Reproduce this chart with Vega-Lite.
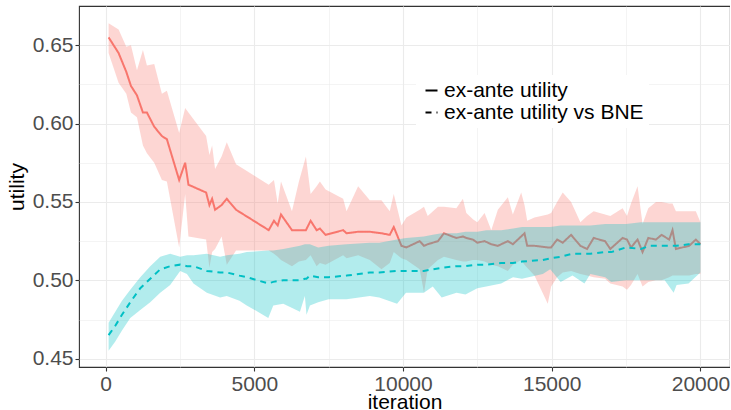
{
  "$schema": "https://vega.github.io/schema/vega-lite/v6.json",
  "width": 651,
  "height": 361,
  "autosize": {"type": "none"},
  "padding": {"left": 79, "top": 6, "right": 0, "bottom": 43},
  "background": "white",
  "config": {
    "view": {"stroke": "#333333", "strokeWidth": 1.1},
    "font": "Liberation Sans",
    "axis": {
      "labelFont": "Liberation Sans",
      "titleFont": "Liberation Sans",
      "labelFontSize": 21,
      "titleFontSize": 21,
      "labelColor": "#4D4D4D",
      "titleColor": "#000000",
      "titleFontWeight": "normal",
      "domain": false,
      "tickSize": 4,
      "tickWidth": 1.1,
      "labelPadding": 2,
      "gridColor": "#EBEBEB"
    },
    "legend": {"labelFont": "Liberation Sans"}
  },
  "datasets": {
    "eau": [
      {"iteration": 100, "utility": 0.655, "lower": 0.645, "upper": 0.664, "series": "ex-ante utility"},
      {"iteration": 436, "utility": 0.645, "lower": 0.626, "upper": 0.66, "series": "ex-ante utility"},
      {"iteration": 695, "utility": 0.633, "lower": 0.619, "upper": 0.649, "series": "ex-ante utility"},
      {"iteration": 852, "utility": 0.624, "lower": 0.607, "upper": 0.65, "series": "ex-ante utility"},
      {"iteration": 1054, "utility": 0.618, "lower": 0.604, "upper": 0.634, "series": "ex-ante utility"},
      {"iteration": 1255, "utility": 0.607, "lower": 0.586, "upper": 0.647, "series": "ex-ante utility"},
      {"iteration": 1389, "utility": 0.607, "lower": 0.581, "upper": 0.637, "series": "ex-ante utility"},
      {"iteration": 1634, "utility": 0.598, "lower": 0.575, "upper": 0.638, "series": "ex-ante utility"},
      {"iteration": 1893, "utility": 0.592, "lower": 0.564, "upper": 0.619, "series": "ex-ante utility"},
      {"iteration": 2060, "utility": 0.59, "lower": 0.563, "upper": 0.621, "series": "ex-ante utility"},
      {"iteration": 2473, "utility": 0.564, "lower": 0.521, "upper": 0.594, "series": "ex-ante utility"},
      {"iteration": 2675, "utility": 0.575, "lower": 0.555, "upper": 0.61, "series": "ex-ante utility"},
      {"iteration": 2785, "utility": 0.561, "lower": 0.528, "upper": 0.607, "series": "ex-ante utility"},
      {"iteration": 3379, "utility": 0.556, "lower": 0.526, "upper": 0.592, "series": "ex-ante utility"},
      {"iteration": 3490, "utility": 0.548, "lower": 0.508, "upper": 0.58, "series": "ex-ante utility"},
      {"iteration": 3581, "utility": 0.552, "lower": 0.518, "upper": 0.586, "series": "ex-ante utility"},
      {"iteration": 3681, "utility": 0.545, "lower": 0.52, "upper": 0.571, "series": "ex-ante utility"},
      {"iteration": 3900, "utility": 0.548, "lower": 0.528, "upper": 0.579, "series": "ex-ante utility"},
      {"iteration": 4074, "utility": 0.552, "lower": 0.51, "upper": 0.588, "series": "ex-ante utility"},
      {"iteration": 4386, "utility": 0.545, "lower": 0.519, "upper": 0.574, "series": "ex-ante utility"},
      {"iteration": 5484, "utility": 0.532, "lower": 0.519, "upper": 0.561, "series": "ex-ante utility"},
      {"iteration": 5661, "utility": 0.538, "lower": 0.517, "upper": 0.564, "series": "ex-ante utility"},
      {"iteration": 5786, "utility": 0.535, "lower": 0.515, "upper": 0.549, "series": "ex-ante utility"},
      {"iteration": 5897, "utility": 0.542, "lower": 0.513, "upper": 0.563, "series": "ex-ante utility"},
      {"iteration": 6266, "utility": 0.532, "lower": 0.509, "upper": 0.544, "series": "ex-ante utility"},
      {"iteration": 6500, "utility": 0.532, "lower": 0.512, "upper": 0.563, "series": "ex-ante utility"},
      {"iteration": 6735, "utility": 0.532, "lower": 0.513, "upper": 0.579, "series": "ex-ante utility"},
      {"iteration": 6893, "utility": 0.538, "lower": 0.516, "upper": 0.555, "series": "ex-ante utility"},
      {"iteration": 7095, "utility": 0.532, "lower": 0.509, "upper": 0.56, "series": "ex-ante utility"},
      {"iteration": 7205, "utility": 0.533, "lower": 0.511, "upper": 0.563, "series": "ex-ante utility"},
      {"iteration": 7397, "utility": 0.529, "lower": 0.51, "upper": 0.558, "series": "ex-ante utility"},
      {"iteration": 7987, "utility": 0.532, "lower": 0.516, "upper": 0.552, "series": "ex-ante utility"},
      {"iteration": 8101, "utility": 0.53, "lower": 0.514, "upper": 0.544, "series": "ex-ante utility"},
      {"iteration": 8491, "utility": 0.531, "lower": 0.516, "upper": 0.56, "series": "ex-ante utility"},
      {"iteration": 8883, "utility": 0.531, "lower": 0.513, "upper": 0.551, "series": "ex-ante utility"},
      {"iteration": 9276, "utility": 0.53, "lower": 0.507, "upper": 0.551, "series": "ex-ante utility"},
      {"iteration": 9554, "utility": 0.529, "lower": 0.511, "upper": 0.544, "series": "ex-ante utility"},
      {"iteration": 9689, "utility": 0.534, "lower": 0.518, "upper": 0.555, "series": "ex-ante utility"},
      {"iteration": 9947, "utility": 0.522, "lower": 0.514, "upper": 0.535, "series": "ex-ante utility"},
      {"iteration": 10115, "utility": 0.521, "lower": 0.513, "upper": 0.54, "series": "ex-ante utility"},
      {"iteration": 10561, "utility": 0.525, "lower": 0.507, "upper": 0.545, "series": "ex-ante utility"},
      {"iteration": 10706, "utility": 0.522, "lower": 0.492, "upper": 0.547, "series": "ex-ante utility"},
      {"iteration": 10830, "utility": 0.523, "lower": 0.507, "upper": 0.541, "series": "ex-ante utility"},
      {"iteration": 11175, "utility": 0.525, "lower": 0.513, "upper": 0.547, "series": "ex-ante utility"},
      {"iteration": 11377, "utility": 0.53, "lower": 0.515, "upper": 0.547, "series": "ex-ante utility"},
      {"iteration": 11793, "utility": 0.527, "lower": 0.513, "upper": 0.546, "series": "ex-ante utility"},
      {"iteration": 12014, "utility": 0.528, "lower": 0.512, "upper": 0.552, "series": "ex-ante utility"},
      {"iteration": 12128, "utility": 0.527, "lower": 0.512, "upper": 0.543, "series": "ex-ante utility"},
      {"iteration": 12350, "utility": 0.526, "lower": 0.513, "upper": 0.539, "series": "ex-ante utility"},
      {"iteration": 12498, "utility": 0.524, "lower": 0.513, "upper": 0.537, "series": "ex-ante utility"},
      {"iteration": 12743, "utility": 0.525, "lower": 0.512, "upper": 0.543, "series": "ex-ante utility"},
      {"iteration": 12968, "utility": 0.523, "lower": 0.51, "upper": 0.532, "series": "ex-ante utility"},
      {"iteration": 13189, "utility": 0.522, "lower": 0.509, "upper": 0.545, "series": "ex-ante utility"},
      {"iteration": 13525, "utility": 0.525, "lower": 0.506, "upper": 0.553, "series": "ex-ante utility"},
      {"iteration": 13693, "utility": 0.523, "lower": 0.51, "upper": 0.542, "series": "ex-ante utility"},
      {"iteration": 13974, "utility": 0.528, "lower": 0.513, "upper": 0.556, "series": "ex-ante utility"},
      {"iteration": 14085, "utility": 0.53, "lower": 0.51, "upper": 0.548, "series": "ex-ante utility"},
      {"iteration": 14176, "utility": 0.522, "lower": 0.508, "upper": 0.538, "series": "ex-ante utility"},
      {"iteration": 14420, "utility": 0.522, "lower": 0.503, "upper": 0.54, "series": "ex-ante utility"},
      {"iteration": 14867, "utility": 0.521, "lower": 0.485, "upper": 0.542, "series": "ex-ante utility"},
      {"iteration": 14981, "utility": 0.521, "lower": 0.496, "upper": 0.543, "series": "ex-ante utility"},
      {"iteration": 15182, "utility": 0.526, "lower": 0.502, "upper": 0.55, "series": "ex-ante utility"},
      {"iteration": 15370, "utility": 0.524, "lower": 0.505, "upper": 0.556, "series": "ex-ante utility"},
      {"iteration": 15652, "utility": 0.529, "lower": 0.506, "upper": 0.55, "series": "ex-ante utility"},
      {"iteration": 15964, "utility": 0.522, "lower": 0.504, "upper": 0.537, "series": "ex-ante utility"},
      {"iteration": 16189, "utility": 0.52, "lower": 0.503, "upper": 0.541, "series": "ex-ante utility"},
      {"iteration": 16411, "utility": 0.527, "lower": 0.502, "upper": 0.544, "series": "ex-ante utility"},
      {"iteration": 16793, "utility": 0.525, "lower": 0.501, "upper": 0.542, "series": "ex-ante utility"},
      {"iteration": 16971, "utility": 0.52, "lower": 0.498, "upper": 0.541, "series": "ex-ante utility"},
      {"iteration": 17384, "utility": 0.527, "lower": 0.496, "upper": 0.546, "series": "ex-ante utility"},
      {"iteration": 17532, "utility": 0.526, "lower": 0.494, "upper": 0.541, "series": "ex-ante utility"},
      {"iteration": 17666, "utility": 0.521, "lower": 0.497, "upper": 0.549, "series": "ex-ante utility"},
      {"iteration": 17887, "utility": 0.526, "lower": 0.504, "upper": 0.56, "series": "ex-ante utility"},
      {"iteration": 18055, "utility": 0.518, "lower": 0.496, "upper": 0.536, "series": "ex-ante utility"},
      {"iteration": 18247, "utility": 0.527, "lower": 0.499, "upper": 0.546, "series": "ex-ante utility"},
      {"iteration": 18505, "utility": 0.526, "lower": 0.5, "upper": 0.55, "series": "ex-ante utility"},
      {"iteration": 18693, "utility": 0.529, "lower": 0.5, "upper": 0.55, "series": "ex-ante utility"},
      {"iteration": 18951, "utility": 0.526, "lower": 0.502, "upper": 0.549, "series": "ex-ante utility"},
      {"iteration": 19062, "utility": 0.532, "lower": 0.503, "upper": 0.549, "series": "ex-ante utility"},
      {"iteration": 19176, "utility": 0.52, "lower": 0.503, "upper": 0.544, "series": "ex-ante utility"},
      {"iteration": 19622, "utility": 0.522, "lower": 0.503, "upper": 0.544, "series": "ex-ante utility"},
      {"iteration": 19847, "utility": 0.526, "lower": 0.504, "upper": 0.544, "series": "ex-ante utility"},
      {"iteration": 20000, "utility": 0.523, "lower": 0.504, "upper": 0.537, "series": "ex-ante utility"}
    ],
    "bne": [
      {"iteration": 100, "utility": 0.465, "lower": 0.455, "upper": 0.473, "series": "ex-ante utility vs BNE"},
      {"iteration": 325, "utility": 0.471, "lower": 0.461, "upper": 0.48, "series": "ex-ante utility vs BNE"},
      {"iteration": 550, "utility": 0.478, "lower": 0.468, "upper": 0.487, "series": "ex-ante utility vs BNE"},
      {"iteration": 829, "utility": 0.486, "lower": 0.476, "upper": 0.494, "series": "ex-ante utility vs BNE"},
      {"iteration": 1165, "utility": 0.495, "lower": 0.481, "upper": 0.502, "series": "ex-ante utility vs BNE"},
      {"iteration": 1500, "utility": 0.501, "lower": 0.486, "upper": 0.509, "series": "ex-ante utility vs BNE"},
      {"iteration": 1836, "utility": 0.507, "lower": 0.492, "upper": 0.515, "series": "ex-ante utility vs BNE"},
      {"iteration": 2171, "utility": 0.509, "lower": 0.497, "upper": 0.517, "series": "ex-ante utility vs BNE"},
      {"iteration": 2507, "utility": 0.51, "lower": 0.506, "upper": 0.515, "series": "ex-ante utility vs BNE"},
      {"iteration": 2735, "utility": 0.509, "lower": 0.504, "upper": 0.516, "series": "ex-ante utility vs BNE"},
      {"iteration": 2953, "utility": 0.509, "lower": 0.498, "upper": 0.516, "series": "ex-ante utility vs BNE"},
      {"iteration": 3403, "utility": 0.506, "lower": 0.492, "upper": 0.517, "series": "ex-ante utility vs BNE"},
      {"iteration": 3850, "utility": 0.505, "lower": 0.489, "upper": 0.515, "series": "ex-ante utility vs BNE"},
      {"iteration": 4074, "utility": 0.505, "lower": 0.49, "upper": 0.516, "series": "ex-ante utility vs BNE"},
      {"iteration": 4500, "utility": 0.503, "lower": 0.487, "upper": 0.517, "series": "ex-ante utility vs BNE"},
      {"iteration": 4745, "utility": 0.502, "lower": 0.484, "upper": 0.518, "series": "ex-ante utility vs BNE"},
      {"iteration": 5470, "utility": 0.498, "lower": 0.476, "upper": 0.519, "series": "ex-ante utility vs BNE"},
      {"iteration": 5638, "utility": 0.499, "lower": 0.484, "upper": 0.519, "series": "ex-ante utility vs BNE"},
      {"iteration": 5974, "utility": 0.5, "lower": 0.485, "upper": 0.52, "series": "ex-ante utility vs BNE"},
      {"iteration": 6534, "utility": 0.5, "lower": 0.48, "upper": 0.522, "series": "ex-ante utility vs BNE"},
      {"iteration": 6700, "utility": 0.501, "lower": 0.49, "upper": 0.523, "series": "ex-ante utility vs BNE"},
      {"iteration": 6755, "utility": 0.501, "lower": 0.478, "upper": 0.523, "series": "ex-ante utility vs BNE"},
      {"iteration": 6870, "utility": 0.503, "lower": 0.484, "upper": 0.523, "series": "ex-ante utility vs BNE"},
      {"iteration": 7148, "utility": 0.502, "lower": 0.486, "upper": 0.521, "series": "ex-ante utility vs BNE"},
      {"iteration": 7500, "utility": 0.502, "lower": 0.488, "upper": 0.522, "series": "ex-ante utility vs BNE"},
      {"iteration": 8101, "utility": 0.503, "lower": 0.488, "upper": 0.523, "series": "ex-ante utility vs BNE"},
      {"iteration": 8883, "utility": 0.505, "lower": 0.49, "upper": 0.524, "series": "ex-ante utility vs BNE"},
      {"iteration": 9200, "utility": 0.505, "lower": 0.489, "upper": 0.524, "series": "ex-ante utility vs BNE"},
      {"iteration": 9800, "utility": 0.506, "lower": 0.485, "upper": 0.526, "series": "ex-ante utility vs BNE"},
      {"iteration": 10100, "utility": 0.506, "lower": 0.492, "upper": 0.527, "series": "ex-ante utility vs BNE"},
      {"iteration": 10700, "utility": 0.506, "lower": 0.492, "upper": 0.528, "series": "ex-ante utility vs BNE"},
      {"iteration": 11000, "utility": 0.507, "lower": 0.496, "upper": 0.529, "series": "ex-ante utility vs BNE"},
      {"iteration": 11300, "utility": 0.508, "lower": 0.489, "upper": 0.53, "series": "ex-ante utility vs BNE"},
      {"iteration": 11800, "utility": 0.509, "lower": 0.492, "upper": 0.53, "series": "ex-ante utility vs BNE"},
      {"iteration": 12100, "utility": 0.509, "lower": 0.491, "upper": 0.531, "series": "ex-ante utility vs BNE"},
      {"iteration": 12500, "utility": 0.51, "lower": 0.495, "upper": 0.531, "series": "ex-ante utility vs BNE"},
      {"iteration": 12800, "utility": 0.51, "lower": 0.496, "upper": 0.532, "series": "ex-ante utility vs BNE"},
      {"iteration": 13300, "utility": 0.511, "lower": 0.498, "upper": 0.532, "series": "ex-ante utility vs BNE"},
      {"iteration": 13700, "utility": 0.511, "lower": 0.502, "upper": 0.533, "series": "ex-ante utility vs BNE"},
      {"iteration": 14000, "utility": 0.512, "lower": 0.501, "upper": 0.534, "series": "ex-ante utility vs BNE"},
      {"iteration": 14700, "utility": 0.513, "lower": 0.504, "upper": 0.534, "series": "ex-ante utility vs BNE"},
      {"iteration": 14950, "utility": 0.514, "lower": 0.507, "upper": 0.534, "series": "ex-ante utility vs BNE"},
      {"iteration": 15300, "utility": 0.515, "lower": 0.499, "upper": 0.535, "series": "ex-ante utility vs BNE"},
      {"iteration": 15700, "utility": 0.517, "lower": 0.503, "upper": 0.535, "series": "ex-ante utility vs BNE"},
      {"iteration": 16100, "utility": 0.517, "lower": 0.498, "upper": 0.535, "series": "ex-ante utility vs BNE"},
      {"iteration": 16300, "utility": 0.517, "lower": 0.504, "upper": 0.535, "series": "ex-ante utility vs BNE"},
      {"iteration": 16800, "utility": 0.518, "lower": 0.502, "upper": 0.536, "series": "ex-ante utility vs BNE"},
      {"iteration": 17000, "utility": 0.518, "lower": 0.499, "upper": 0.536, "series": "ex-ante utility vs BNE"},
      {"iteration": 17500, "utility": 0.521, "lower": 0.5, "upper": 0.536, "series": "ex-ante utility vs BNE"},
      {"iteration": 18000, "utility": 0.52, "lower": 0.5, "upper": 0.537, "series": "ex-ante utility vs BNE"},
      {"iteration": 18300, "utility": 0.522, "lower": 0.5, "upper": 0.537, "series": "ex-ante utility vs BNE"},
      {"iteration": 18800, "utility": 0.522, "lower": 0.5, "upper": 0.537, "series": "ex-ante utility vs BNE"},
      {"iteration": 19100, "utility": 0.522, "lower": 0.492, "upper": 0.537, "series": "ex-ante utility vs BNE"},
      {"iteration": 19200, "utility": 0.522, "lower": 0.497, "upper": 0.537, "series": "ex-ante utility vs BNE"},
      {"iteration": 19600, "utility": 0.523, "lower": 0.498, "upper": 0.537, "series": "ex-ante utility vs BNE"},
      {"iteration": 20000, "utility": 0.523, "lower": 0.505, "upper": 0.537, "series": "ex-ante utility vs BNE"}
    ]
  },
  "encoding": {
    "x": {
      "field": "iteration",
      "type": "quantitative",
      "title": "iteration",
      "scale": {"domain": [-895, 20995], "nice": false, "zero": false},
      "axis": {
        "values": [0, 2500, 5000, 7500, 10000, 12500, 15000, 17500, 20000],
        "format": "d",
        "labelExpr": "datum.value % 5000 == 0 ? datum.label : ''",
        "tickColor": {"condition": {"test": "datum.value % 5000 == 0", "value": "#333333"}, "value": "transparent"},
        "gridWidth": {"condition": {"test": "datum.value % 5000 == 0", "value": 1.1}, "value": 0.55},
        "titlePadding": -3
      }
    },
    "y": {
      "field": "utility",
      "type": "quantitative",
      "title": "utility",
      "scale": {"domain": [0.4447, 0.675], "nice": false, "zero": false},
      "axis": {
        "values": [0.45, 0.475, 0.5, 0.525, 0.55, 0.575, 0.6, 0.625, 0.65],
        "format": ".2f",
        "labelExpr": "abs(datum.value * 20 - round(datum.value * 20)) < 0.000001 ? datum.label : ''",
        "tickColor": {"condition": {"test": "abs(datum.value * 20 - round(datum.value * 20)) < 0.000001", "value": "#333333"}, "value": "transparent"},
        "gridWidth": {"condition": {"test": "abs(datum.value * 20 - round(datum.value * 20)) < 0.000001", "value": 1.1}, "value": 0.55},
        "titlePadding": 5
      }
    }
  },
  "layer": [
    {
      "data": {"name": "eau"},
      "mark": {"type": "area", "color": "#F8766D", "opacity": 0.3},
      "encoding": {"y": {"field": "lower", "type": "quantitative"}, "y2": {"field": "upper"}}
    },
    {
      "data": {"name": "eau"},
      "mark": {"type": "line", "color": "#F8766D", "strokeWidth": 2},
      "encoding": {
        "strokeDash": {
          "field": "series",
          "type": "nominal",
          "scale": {"domain": ["ex-ante utility", "ex-ante utility vs BNE"], "range": [[1, 0], [6, 5]]},
          "legend": {
            "title": null,
            "orient": "none",
            "legendX": 337,
            "legendY": 69,
            "fillColor": "white",
            "padding": 5,
            "labelFontSize": 21,
            "labelColor": "#000000",
            "labelLimit": 400,
            "symbolType": "stroke",
            "symbolSize": 144,
            "symbolStrokeWidth": 2,
            "symbolStrokeColor": "#000000",
            "labelOffset": 2,
            "rowPadding": 0,
            "encode": {"symbols": {"update": {"stroke": {"value": "#000000"}}}}
          }
        }
      }
    },
    {
      "data": {"name": "bne"},
      "mark": {"type": "area", "color": "#00BFC4", "opacity": 0.3},
      "encoding": {"y": {"field": "lower", "type": "quantitative"}, "y2": {"field": "upper"}}
    },
    {
      "data": {"name": "bne"},
      "mark": {"type": "line", "color": "#00BFC4", "strokeWidth": 2},
      "encoding": {
        "strokeDash": {"field": "series", "type": "nominal"}
      }
    }
  ]
}
